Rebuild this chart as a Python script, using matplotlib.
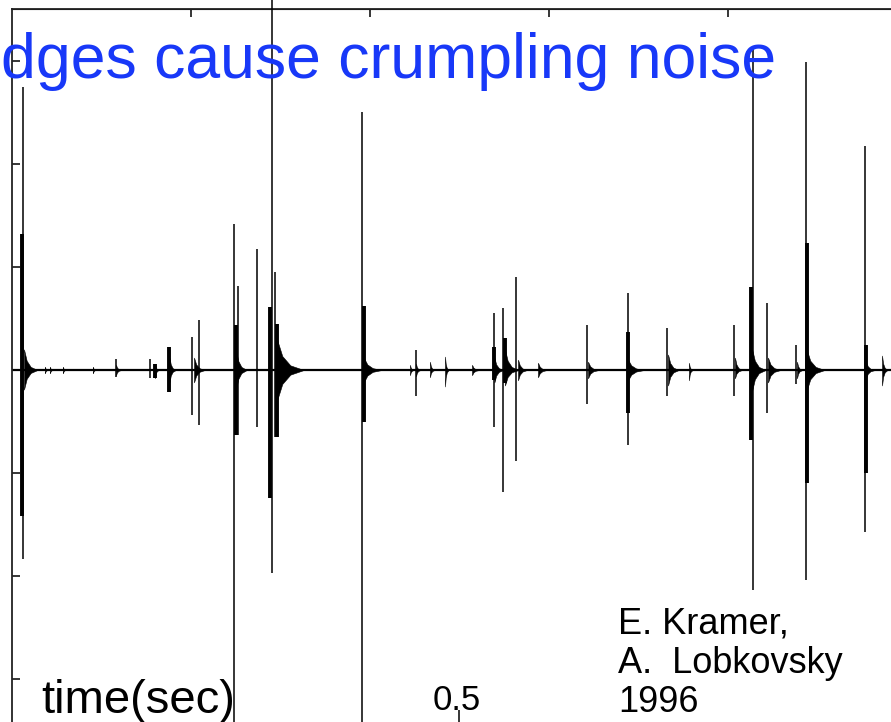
import matplotlib
matplotlib.use("Agg")
import matplotlib.pyplot as plt

plt.rcParams['font.family'] = ['Liberation Sans', 'DejaVu Sans']

# ---- data (time in s, amplitude in arbitrary units) ----
# sharp individual spikes
peak_t  = [0.0126, 0.2484, 0.2522, 0.2737, 0.2902, 0.2939, 0.3914, 0.4514,
           0.5385, 0.5483, 0.5631, 0.6425, 0.6883, 0.7318, 0.8067, 0.8276,
           0.8436, 0.8760, 0.8868, 0.9531, 0.1162, 0.1542, 0.2011, 0.2089,
           0.1754]
peak_hi = [2.74, 1.42, 0.81, 1.17, 3.75, 0.95, 2.50, 0.19,
           0.55, 0.60, 0.90, 0.44, 0.75, 0.41, 0.44, 3.11,
           0.65, 0.24, 2.99, 2.17, 0.11, 0.11, 0.32, 0.48,
           0.22]
peak_lo = [-1.83, -3.60, -0.63, -0.55, -1.97, -0.65, -3.60, -0.25,
           -0.55, -1.18, -0.88, -0.33, -0.73, -0.25, -0.25, -2.13,
           -0.42, -0.14, -2.04, -1.57, -0.07, -0.08, -0.44, -0.53,
           -0.21]

# dense burst cores
core_t  = [0.0115, 0.2503, 0.2883, 0.2960, 0.3930, 0.5508, 0.6883, 0.8257,
           0.8879, 0.9542, 0.1754, 0.5385, 0.1598]
core_hi = [1.32, 0.44, 0.61, 0.45, 0.62, 0.31, 0.37, 0.80,
           1.23, 0.24, 0.22, 0.22, 0.06]
core_lo = [-1.42, -0.63, -1.24, -0.65, -0.50, -0.13, -0.42, -0.68,
           -1.10, -1.00, -0.21, -0.10, -0.08]

# decaying ringing after each event
tail_t   = [0.0134, 0.0369, 0.0425, 0.0570, 0.0905, 0.1162, 0.1598, 0.1760,
            0.2034, 0.2503, 0.2960, 0.3930, 0.4447, 0.4514, 0.4670, 0.4838,
            0.5140, 0.5390, 0.5508, 0.5654, 0.5877, 0.6436, 0.6883, 0.7330,
            0.7564, 0.8078, 0.8270, 0.8447, 0.8771, 0.8879, 0.9542, 0.9721]
tail_hi  = [0.20, 0.03, 0.03, 0.03, 0.03, 0.05, 0.06, 0.12,
            0.12, 0.20, 0.30, 0.12, 0.05, 0.06, 0.08, 0.13,
            0.05, 0.12, 0.20, 0.10, 0.07, 0.08, 0.10, 0.15,
            0.07, 0.12, 0.20, 0.12, 0.08, 0.20, 0.08, 0.14]
tail_lo  = [-0.19, -0.03, -0.03, -0.03, -0.03, -0.05, -0.08, -0.12,
            -0.12, -0.20, -0.30, -0.12, -0.05, -0.06, -0.07, -0.16,
            -0.05, -0.12, -0.15, -0.10, -0.07, -0.08, -0.10, -0.15,
            -0.10, -0.08, -0.20, -0.12, -0.08, -0.20, -0.08, -0.15]
tail_dur = [0.015, 0.003, 0.003, 0.003, 0.003, 0.006, 0.004, 0.007,
            0.012, 0.012, 0.030, 0.020, 0.004, 0.005, 0.005, 0.004,
            0.008, 0.010, 0.015, 0.010, 0.010, 0.012, 0.018, 0.012,
            0.004, 0.008, 0.015, 0.014, 0.006, 0.020, 0.010, 0.006]

top_ticks = [0.2, 0.4, 0.6, 0.8]
y_ticks = [-3, -2, -1, 0, 1, 2, 3]
bottom_ticks = [0.5]

title = "dges cause crumpling noise"
xlabel = "time(sec)"
credit = ["E. Kramer,", "A.  Lobkovsky", "1996"]

# ---- figure ----
W, H = 891, 722
fig = plt.figure(figsize=(W / 100, H / 100), dpi=100)
ax = fig.add_axes([12 / W, (H - 731) / H, 895 / W, 722 / H])
ax.set_xlim(0, 1)
ax.set_ylim(-3.5, 3.5)

ax.hlines(0, 0, 1, color='black', lw=1.6, zorder=2)
# ringing envelope: fast initial decay, then a long thin tail
shape_x = [0.0, 0.2, 0.5, 1.0]
shape_y = [1.0, 0.45, 0.15, 0.0]
for t, hi, lo, d in zip(tail_t, tail_hi, tail_lo, tail_dur):
    xs = [t + d * s for s in shape_x]
    ax.fill_between(xs, [hi * s for s in shape_y], [lo * s for s in shape_y],
                    color='black', lw=0.4, zorder=3)
ax.vlines(core_t, core_lo, core_hi, color='black', lw=2.8, zorder=4,
          clip_on=False)
ax.vlines(peak_t, peak_lo, peak_hi, color='black', lw=1.1, zorder=5,
          clip_on=False)

for s in ax.spines.values():
    s.set_linewidth(1.3)
    s.set_color('#222222')

ax.set_yticks(y_ticks)
ax.set_yticklabels([])
ax.set_xticks(bottom_ticks)
ax.set_xticklabels([])
ax.tick_params(axis='y', direction='in', length=6, width=1.1, left=True)
ax.tick_params(axis='x', direction='in', length=15, width=1.1, bottom=True)
sec = ax.secondary_xaxis('top')
sec.set_xticks(top_ticks)
sec.set_xticklabels([])
sec.tick_params(direction='in', length=6, width=1.1)

fig.text(1 / W, (H - 78) / H, title, color='#1838f8', fontsize=45,
         ha='left', va='baseline')
fig.text(41 / W, (H - 713) / H, xlabel, color='black', fontsize=34,
         ha='left', va='baseline')
fig.text(457 / W, (H - 710) / H, "0.5", color='black', fontsize=25,
         ha='center', va='baseline')
for line, base in zip(credit, [633, 673, 712]):
    fig.text(618 / W, (H - base) / H, line, color='black', fontsize=26,
             ha='left', va='baseline')

fig.savefig('out.png', dpi=100)
